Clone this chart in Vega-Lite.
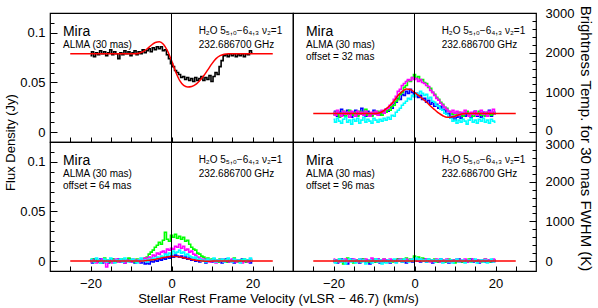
{
"$schema":"https://vega.github.io/schema/vega-lite/v6.json",
"padding":{"left":4,"top":4,"right":4,"bottom":0},
"config":{"font":"Liberation Sans","view":{"stroke":"#000000","strokeWidth":1.2},
"axis":{"domain":false,"grid":false,"labelOverlap":false,"labelBound":false,"labelFlush":false,"tickColor":"#000","tickWidth":1,"labelColor":"#000","labelFont":"Liberation Sans","labelFontSize":13,"titleFont":"Liberation Sans","titleFontSize":13,"titleFontWeight":"normal","titleColor":"#000"},
"text":{"font":"Liberation Sans","color":"#000"}},
"datasets":{
"obs0":[
{"v":-20,"f":0.077},{"v":-19.5,"f":0.081},{"v":-19,"f":0.076},{"v":-18.5,"f":0.080},{"v":-18,"f":0.078},{"v":-17.5,"f":0.082},{"v":-17,"f":0.079},{"v":-16.5,"f":0.081},{"v":-16,"f":0.077},{"v":-15.5,"f":0.080},{"v":-15,"f":0.083},{"v":-14.5,"f":0.078},{"v":-14,"f":0.081},{"v":-13.5,"f":0.079},{"v":-13,"f":0.074},{"v":-12.5,"f":0.080},{"v":-12,"f":0.078},{"v":-11.5,"f":0.082},{"v":-11,"f":0.079},{"v":-10.5,"f":0.081},{"v":-10,"f":0.077},{"v":-9.5,"f":0.080},{"v":-9,"f":0.082},{"v":-8.5,"f":0.078},{"v":-8,"f":0.081},{"v":-7.5,"f":0.079},{"v":-7,"f":0.083},{"v":-6.5,"f":0.080},{"v":-6,"f":0.082},{"v":-5.5,"f":0.084},{"v":-5,"f":0.081},{"v":-4.5,"f":0.085},{"v":-4,"f":0.083},{"v":-3.5,"f":0.086},{"v":-3,"f":0.084},{"v":-2.5,"f":0.086},{"v":-2,"f":0.082},{"v":-1.5,"f":0.083},{"v":-1,"f":0.078},{"v":-0.5,"f":0.074},{"v":0,"f":0.069},{"v":0.5,"f":0.066},{"v":1,"f":0.062},{"v":1.5,"f":0.060},{"v":2,"f":0.058},{"v":2.5,"f":0.055},{"v":3,"f":0.056},{"v":3.5,"f":0.053},{"v":4,"f":0.055},{"v":4.5,"f":0.052},{"v":5,"f":0.054},{"v":5.5,"f":0.051},{"v":6,"f":0.055},{"v":6.5,"f":0.052},{"v":7,"f":0.054},{"v":7.5,"f":0.056},{"v":8,"f":0.052},{"v":8.5,"f":0.055},{"v":9,"f":0.053},{"v":9.5,"f":0.057},{"v":10,"f":0.051},{"v":10.5,"f":0.056},{"v":11,"f":0.060},{"v":11.5,"f":0.058},{"v":12,"f":0.066},{"v":12.5,"f":0.072},{"v":13,"f":0.077},{"v":13.5,"f":0.078},{"v":14,"f":0.076},{"v":14.5,"f":0.079},{"v":15,"f":0.077},{"v":15.5,"f":0.079},{"v":16,"f":0.076},{"v":16.5,"f":0.078},{"v":17,"f":0.077},{"v":17.5,"f":0.079},{"v":18,"f":0.076},{"v":18.5,"f":0.079},{"v":19,"f":0.078},{"v":19.5,"f":0.082},{"v":20,"f":0.080}
],
"obs":[
{"p":"32","v":-20,"b":0.018,"c":0.013,"g":0.017,"m":0.020},
{"p":"32","v":-19.5,"b":0.021,"c":0.010,"g":0.020,"m":0.017},
{"p":"32","v":-19,"b":0.016,"c":0.014,"g":0.018,"m":0.022},
{"p":"32","v":-18.5,"b":0.020,"c":0.011,"g":0.015,"m":0.019},
{"p":"32","v":-18,"b":0.023,"c":0.009,"g":0.019,"m":0.016},
{"p":"32","v":-17.5,"b":0.017,"c":0.013,"g":0.021,"m":0.021},
{"p":"32","v":-17,"b":0.019,"c":0.015,"g":0.016,"m":0.018},
{"p":"32","v":-16.5,"b":0.022,"c":0.010,"g":0.018,"m":0.020},
{"p":"32","v":-16,"b":0.018,"c":0.012,"g":0.022,"m":0.015},
{"p":"32","v":-15.5,"b":0.015,"c":0.008,"g":0.019,"m":0.021},
{"p":"32","v":-15,"b":0.020,"c":0.013,"g":0.017,"m":0.019},
{"p":"32","v":-14.5,"b":0.022,"c":0.011,"g":0.020,"m":0.016},
{"p":"32","v":-14,"b":0.017,"c":0.014,"g":0.016,"m":0.021},
{"p":"32","v":-13.5,"b":0.019,"c":0.009,"g":0.021,"m":0.018},
{"p":"32","v":-13,"b":0.024,"c":0.012,"g":0.018,"m":0.020},
{"p":"32","v":-12.5,"b":0.018,"c":0.015,"g":0.020,"m":0.017},
{"p":"32","v":-12,"b":0.016,"c":0.010,"g":0.023,"m":0.021},
{"p":"32","v":-11.5,"b":0.021,"c":0.013,"g":0.017,"m":0.019},
{"p":"32","v":-11,"b":0.019,"c":0.011,"g":0.019,"m":0.016},
{"p":"32","v":-10.5,"b":0.017,"c":0.009,"g":0.016,"m":0.020},
{"p":"32","v":-10,"b":0.022,"c":0.014,"g":0.020,"m":0.018},
{"p":"32","v":-9.5,"b":0.018,"c":0.012,"g":0.018,"m":0.021},
{"p":"32","v":-9,"b":0.020,"c":0.010,"g":0.021,"m":0.017},
{"p":"32","v":-8.5,"b":0.017,"c":0.013,"g":0.019,"m":0.020},
{"p":"32","v":-8,"b":0.021,"c":0.011,"g":0.017,"m":0.022},
{"p":"32","v":-7.5,"b":0.019,"c":0.014,"g":0.021,"m":0.019},
{"p":"32","v":-7,"b":0.023,"c":0.012,"g":0.020,"m":0.023},
{"p":"32","v":-6.5,"b":0.021,"c":0.015,"g":0.023,"m":0.024},
{"p":"32","v":-6,"b":0.025,"c":0.013,"g":0.022,"m":0.027},
{"p":"32","v":-5.5,"b":0.024,"c":0.017,"g":0.026,"m":0.029},
{"p":"32","v":-5,"b":0.029,"c":0.016,"g":0.027,"m":0.033},
{"p":"32","v":-4.5,"b":0.030,"c":0.020,"g":0.031,"m":0.036},
{"p":"32","v":-4,"b":0.034,"c":0.022,"g":0.033,"m":0.041},
{"p":"32","v":-3.5,"b":0.033,"c":0.024,"g":0.038,"m":0.043},
{"p":"32","v":-3,"b":0.038,"c":0.027,"g":0.040,"m":0.047},
{"p":"32","v":-2.5,"b":0.037,"c":0.029,"g":0.045,"m":0.049},
{"p":"32","v":-2,"b":0.041,"c":0.031,"g":0.047,"m":0.051},
{"p":"32","v":-1.5,"b":0.039,"c":0.034,"g":0.052,"m":0.053},
{"p":"32","v":-1,"b":0.043,"c":0.033,"g":0.051,"m":0.052},
{"p":"32","v":-0.5,"b":0.040,"c":0.037,"g":0.055,"m":0.055},
{"p":"32","v":0,"b":0.036,"c":0.036,"g":0.058,"m":0.053},
{"p":"32","v":0.5,"b":0.039,"c":0.039,"g":0.054,"m":0.054},
{"p":"32","v":1,"b":0.035,"c":0.038,"g":0.056,"m":0.051},
{"p":"32","v":1.5,"b":0.037,"c":0.041,"g":0.052,"m":0.053},
{"p":"32","v":2,"b":0.033,"c":0.039,"g":0.053,"m":0.050},
{"p":"32","v":2.5,"b":0.034,"c":0.037,"g":0.050,"m":0.049},
{"p":"32","v":3,"b":0.030,"c":0.038,"g":0.049,"m":0.047},
{"p":"32","v":3.5,"b":0.032,"c":0.034,"g":0.045,"m":0.046},
{"p":"32","v":4,"b":0.028,"c":0.035,"g":0.044,"m":0.042},
{"p":"32","v":4.5,"b":0.030,"c":0.031,"g":0.040,"m":0.040},
{"p":"32","v":5,"b":0.026,"c":0.030,"g":0.038,"m":0.037},
{"p":"32","v":5.5,"b":0.028,"c":0.027,"g":0.035,"m":0.034},
{"p":"32","v":6,"b":0.024,"c":0.026,"g":0.033,"m":0.032},
{"p":"32","v":6.5,"b":0.026,"c":0.023,"g":0.030,"m":0.029},
{"p":"32","v":7,"b":0.022,"c":0.022,"g":0.028,"m":0.027},
{"p":"32","v":7.5,"b":0.023,"c":0.019,"g":0.025,"m":0.025},
{"p":"32","v":8,"b":0.018,"c":0.018,"g":0.024,"m":0.023},
{"p":"32","v":8.5,"b":0.019,"c":0.015,"g":0.021,"m":0.021},
{"p":"32","v":9,"b":0.014,"c":0.014,"g":0.020,"m":0.020},
{"p":"32","v":9.5,"b":0.016,"c":0.011,"g":0.018,"m":0.022},
{"p":"32","v":10,"b":0.012,"c":0.012,"g":0.019,"m":0.019},
{"p":"32","v":10.5,"b":0.015,"c":0.009,"g":0.017,"m":0.021},
{"p":"32","v":11,"b":0.017,"c":0.012,"g":0.020,"m":0.017},
{"p":"32","v":11.5,"b":0.014,"c":0.010,"g":0.018,"m":0.020},
{"p":"32","v":12,"b":0.019,"c":0.013,"g":0.016,"m":0.018},
{"p":"32","v":12.5,"b":0.016,"c":0.011,"g":0.019,"m":0.022},
{"p":"32","v":13,"b":0.020,"c":0.008,"g":0.021,"m":0.019},
{"p":"32","v":13.5,"b":0.017,"c":0.012,"g":0.017,"m":0.016},
{"p":"32","v":14,"b":0.015,"c":0.014,"g":0.019,"m":0.020},
{"p":"32","v":14.5,"b":0.019,"c":0.010,"g":0.016,"m":0.018},
{"p":"32","v":15,"b":0.021,"c":0.012,"g":0.020,"m":0.021},
{"p":"32","v":15.5,"b":0.016,"c":0.009,"g":0.018,"m":0.017},
{"p":"32","v":16,"b":0.018,"c":0.013,"g":0.021,"m":0.019},
{"p":"32","v":16.5,"b":0.015,"c":0.011,"g":0.017,"m":0.022},
{"p":"32","v":17,"b":0.020,"c":0.014,"g":0.019,"m":0.018},
{"p":"32","v":17.5,"b":0.017,"c":0.010,"g":0.016,"m":0.020},
{"p":"32","v":18,"b":0.019,"c":0.012,"g":0.020,"m":0.016},
{"p":"32","v":18.5,"b":0.022,"c":0.009,"g":0.018,"m":0.021},
{"p":"32","v":19,"b":0.016,"c":0.013,"g":0.017,"m":0.019},
{"p":"32","v":19.5,"b":0.018,"c":0.011,"g":0.020,"m":0.023},
{"p":"32","v":20,"b":0.020,"c":0.010,"g":0.018,"m":0.018},
{"p":"64","v":-20,"b":0.001,"c":0.002,"g":0.000,"m":-0.001},
{"p":"64","v":-19.5,"b":-0.002,"c":0.000,"g":0.002,"m":0.001},
{"p":"64","v":-19,"b":0.002,"c":-0.001,"g":-0.001,"m":0.000},
{"p":"64","v":-18.5,"b":0.000,"c":0.003,"g":0.001,"m":-0.002},
{"p":"64","v":-18,"b":-0.001,"c":0.001,"g":0.000,"m":0.001},
{"p":"64","v":-17.5,"b":0.002,"c":-0.002,"g":-0.002,"m":0.000},
{"p":"64","v":-17,"b":-0.002,"c":0.000,"g":0.001,"m":0.002},
{"p":"64","v":-16.5,"b":0.001,"c":0.002,"g":0.003,"m":-0.001},
{"p":"64","v":-16,"b":0.000,"c":-0.001,"g":0.000,"m":-0.006},
{"p":"64","v":-15.5,"b":-0.002,"c":0.001,"g":0.001,"m":0.001},
{"p":"64","v":-15,"b":0.001,"c":0.003,"g":-0.001,"m":0.000},
{"p":"64","v":-14.5,"b":0.002,"c":0.000,"g":0.002,"m":-0.002},
{"p":"64","v":-14,"b":-0.001,"c":-0.002,"g":0.000,"m":0.001},
{"p":"64","v":-13.5,"b":0.000,"c":0.001,"g":-0.001,"m":0.002},
{"p":"64","v":-13,"b":0.002,"c":0.000,"g":0.001,"m":-0.001},
{"p":"64","v":-12.5,"b":-0.001,"c":0.002,"g":0.000,"m":0.000},
{"p":"64","v":-12,"b":0.001,"c":-0.001,"g":0.002,"m":0.001},
{"p":"64","v":-11.5,"b":-0.002,"c":0.003,"g":-0.001,"m":-0.002},
{"p":"64","v":-11,"b":0.000,"c":0.000,"g":0.001,"m":0.001},
{"p":"64","v":-10.5,"b":0.002,"c":-0.001,"g":0.003,"m":0.000},
{"p":"64","v":-10,"b":-0.001,"c":0.001,"g":0.000,"m":-0.001},
{"p":"64","v":-9.5,"b":0.001,"c":0.002,"g":0.001,"m":0.002},
{"p":"64","v":-9,"b":-0.002,"c":0.000,"g":-0.001,"m":0.000},
{"p":"64","v":-8.5,"b":0.000,"c":-0.002,"g":0.002,"m":0.001},
{"p":"64","v":-8,"b":0.001,"c":0.001,"g":0.001,"m":-0.001},
{"p":"64","v":-7.5,"b":-0.002,"c":0.003,"g":0.000,"m":0.002},
{"p":"64","v":-7,"b":0.000,"c":0.000,"g":0.002,"m":0.001},
{"p":"64","v":-6.5,"b":-0.003,"c":0.001,"g":0.003,"m":0.003},
{"p":"64","v":-6,"b":-0.002,"c":-0.001,"g":0.004,"m":0.002},
{"p":"64","v":-5.5,"b":-0.003,"c":0.002,"g":0.007,"m":0.004},
{"p":"64","v":-5,"b":0.000,"c":0.001,"g":0.009,"m":0.003},
{"p":"64","v":-4.5,"b":-0.001,"c":0.003,"g":0.011,"m":0.006},
{"p":"64","v":-4,"b":0.001,"c":0.002,"g":0.014,"m":0.005},
{"p":"64","v":-3.5,"b":0.000,"c":0.004,"g":0.016,"m":0.008},
{"p":"64","v":-3,"b":0.002,"c":0.003,"g":0.019,"m":0.007},
{"p":"64","v":-2.5,"b":0.001,"c":0.005,"g":0.017,"m":0.009},
{"p":"64","v":-2,"b":0.003,"c":0.004,"g":0.021,"m":0.010},
{"p":"64","v":-1.5,"b":0.002,"c":0.007,"g":0.029,"m":0.008},
{"p":"64","v":-1,"b":0.004,"c":0.006,"g":0.022,"m":0.012},
{"p":"64","v":-0.5,"b":0.003,"c":0.008,"g":0.020,"m":0.011},
{"p":"64","v":0,"b":0.005,"c":0.007,"g":0.026,"m":0.013},
{"p":"64","v":0.5,"b":0.004,"c":0.010,"g":0.024,"m":0.012},
{"p":"64","v":1,"b":0.006,"c":0.008,"g":0.027,"m":0.015},
{"p":"64","v":1.5,"b":0.005,"c":0.009,"g":0.023,"m":0.014},
{"p":"64","v":2,"b":0.004,"c":0.011,"g":0.025,"m":0.017},
{"p":"64","v":2.5,"b":0.005,"c":0.008,"g":0.022,"m":0.013},
{"p":"64","v":3,"b":0.003,"c":0.009,"g":0.024,"m":0.015},
{"p":"64","v":3.5,"b":0.004,"c":0.006,"g":0.020,"m":0.011},
{"p":"64","v":4,"b":0.002,"c":0.007,"g":0.021,"m":0.012},
{"p":"64","v":4.5,"b":0.003,"c":0.005,"g":0.017,"m":0.009},
{"p":"64","v":5,"b":0.001,"c":0.004,"g":0.014,"m":0.010},
{"p":"64","v":5.5,"b":0.002,"c":0.003,"g":0.012,"m":0.007},
{"p":"64","v":6,"b":0.000,"c":0.004,"g":0.011,"m":0.006},
{"p":"64","v":6.5,"b":0.001,"c":0.001,"g":0.008,"m":0.004},
{"p":"64","v":7,"b":-0.001,"c":0.002,"g":0.007,"m":0.003},
{"p":"64","v":7.5,"b":0.001,"c":0.000,"g":0.005,"m":0.001},
{"p":"64","v":8,"b":0.000,"c":0.001,"g":0.004,"m":0.002},
{"p":"64","v":8.5,"b":-0.002,"c":-0.001,"g":0.002,"m":0.000},
{"p":"64","v":9,"b":0.001,"c":0.002,"g":0.003,"m":0.001},
{"p":"64","v":9.5,"b":0.000,"c":0.000,"g":0.001,"m":-0.001},
{"p":"64","v":10,"b":-0.001,"c":0.001,"g":0.002,"m":0.001},
{"p":"64","v":10.5,"b":0.002,"c":0.003,"g":0.000,"m":0.000},
{"p":"64","v":11,"b":0.000,"c":-0.001,"g":0.001,"m":-0.002},
{"p":"64","v":11.5,"b":-0.001,"c":0.001,"g":-0.001,"m":0.001},
{"p":"64","v":12,"b":0.001,"c":0.000,"g":0.002,"m":0.000},
{"p":"64","v":12.5,"b":-0.002,"c":0.002,"g":0.000,"m":0.002},
{"p":"64","v":13,"b":0.000,"c":-0.001,"g":0.001,"m":-0.001},
{"p":"64","v":13.5,"b":0.002,"c":0.001,"g":-0.001,"m":0.000},
{"p":"64","v":14,"b":-0.001,"c":0.003,"g":0.002,"m":0.001},
{"p":"64","v":14.5,"b":0.000,"c":0.000,"g":0.000,"m":-0.001},
{"p":"64","v":15,"b":0.001,"c":-0.001,"g":0.001,"m":0.002},
{"p":"64","v":15.5,"b":-0.002,"c":0.002,"g":0.003,"m":0.000},
{"p":"64","v":16,"b":0.000,"c":0.000,"g":0.000,"m":-0.001},
{"p":"64","v":16.5,"b":0.001,"c":0.001,"g":-0.001,"m":0.001},
{"p":"64","v":17,"b":-0.001,"c":-0.002,"g":0.001,"m":0.000},
{"p":"64","v":17.5,"b":0.002,"c":0.001,"g":0.000,"m":-0.002},
{"p":"64","v":18,"b":0.000,"c":0.002,"g":0.002,"m":0.001},
{"p":"64","v":18.5,"b":-0.001,"c":0.000,"g":-0.001,"m":0.000},
{"p":"64","v":19,"b":0.001,"c":0.001,"g":0.001,"m":-0.001},
{"p":"64","v":19.5,"b":-0.002,"c":0.003,"g":0.000,"m":0.002},
{"p":"64","v":20,"b":0.000,"c":0.000,"g":0.001,"m":0.000},
{"p":"96","v":-20,"b":-0.001,"c":0.001,"g":0.000,"m":0.002},
{"p":"96","v":-19.5,"b":0.001,"c":-0.002,"g":0.001,"m":0.000},
{"p":"96","v":-19,"b":-0.002,"c":0.000,"g":-0.001,"m":0.001},
{"p":"96","v":-18.5,"b":0.000,"c":0.002,"g":0.002,"m":-0.001},
{"p":"96","v":-18,"b":0.002,"c":-0.001,"g":0.000,"m":0.001},
{"p":"96","v":-17.5,"b":-0.001,"c":0.001,"g":-0.003,"m":0.000},
{"p":"96","v":-17,"b":0.001,"c":-0.003,"g":0.001,"m":0.002},
{"p":"96","v":-16.5,"b":-0.003,"c":0.000,"g":0.003,"m":-0.001},
{"p":"96","v":-16,"b":0.000,"c":0.002,"g":0.000,"m":0.001},
{"p":"96","v":-15.5,"b":0.002,"c":-0.001,"g":0.001,"m":0.000},
{"p":"96","v":-15,"b":-0.001,"c":0.001,"g":-0.002,"m":0.002},
{"p":"96","v":-14.5,"b":0.001,"c":-0.002,"g":0.000,"m":0.001},
{"p":"96","v":-14,"b":0.000,"c":0.000,"g":0.001,"m":-0.001},
{"p":"96","v":-13.5,"b":-0.002,"c":0.002,"g":-0.001,"m":0.002},
{"p":"96","v":-13,"b":0.002,"c":-0.001,"g":0.000,"m":0.000},
{"p":"96","v":-12.5,"b":0.000,"c":0.001,"g":0.002,"m":0.001},
{"p":"96","v":-12,"b":-0.001,"c":-0.003,"g":0.000,"m":0.002},
{"p":"96","v":-11.5,"b":0.001,"c":0.000,"g":-0.001,"m":0.000},
{"p":"96","v":-11,"b":-0.003,"c":0.001,"g":0.001,"m":0.001},
{"p":"96","v":-10.5,"b":0.000,"c":-0.002,"g":0.000,"m":0.003},
{"p":"96","v":-10,"b":0.001,"c":0.000,"g":0.002,"m":0.000},
{"p":"96","v":-9.5,"b":-0.001,"c":0.002,"g":-0.001,"m":0.001},
{"p":"96","v":-9,"b":0.002,"c":-0.001,"g":0.000,"m":0.002},
{"p":"96","v":-8.5,"b":-0.002,"c":0.001,"g":0.001,"m":-0.001},
{"p":"96","v":-8,"b":0.000,"c":-0.003,"g":0.000,"m":0.001},
{"p":"96","v":-7.5,"b":-0.001,"c":0.000,"g":0.002,"m":0.002},
{"p":"96","v":-7,"b":0.001,"c":-0.002,"g":-0.001,"m":0.000},
{"p":"96","v":-6.5,"b":0.000,"c":0.001,"g":0.000,"m":0.001},
{"p":"96","v":-6,"b":-0.002,"c":-0.001,"g":0.001,"m":0.002},
{"p":"96","v":-5.5,"b":0.001,"c":0.000,"g":-0.001,"m":0.000},
{"p":"96","v":-5,"b":0.000,"c":0.002,"g":0.000,"m":0.001},
{"p":"96","v":-4.5,"b":-0.001,"c":-0.002,"g":0.001,"m":-0.001},
{"p":"96","v":-4,"b":0.002,"c":0.000,"g":0.002,"m":0.001},
{"p":"96","v":-3.5,"b":0.000,"c":0.001,"g":0.000,"m":0.002},
{"p":"96","v":-3,"b":-0.001,"c":-0.001,"g":0.002,"m":0.000},
{"p":"96","v":-2.5,"b":0.001,"c":0.002,"g":0.000,"m":0.001},
{"p":"96","v":-2,"b":-0.002,"c":0.000,"g":0.003,"m":0.002},
{"p":"96","v":-1.5,"b":0.000,"c":-0.001,"g":0.001,"m":0.000},
{"p":"96","v":-1,"b":0.001,"c":0.001,"g":0.002,"m":0.001},
{"p":"96","v":-0.5,"b":-0.001,"c":0.002,"g":0.000,"m":0.002},
{"p":"96","v":0,"b":0.002,"c":0.000,"g":0.005,"m":0.001},
{"p":"96","v":0.5,"b":0.000,"c":0.003,"g":0.002,"m":0.002},
{"p":"96","v":1,"b":0.001,"c":0.001,"g":0.004,"m":0.000},
{"p":"96","v":1.5,"b":-0.001,"c":0.002,"g":0.001,"m":0.002},
{"p":"96","v":2,"b":0.000,"c":0.000,"g":0.003,"m":0.001},
{"p":"96","v":2.5,"b":0.002,"c":0.001,"g":0.001,"m":0.000},
{"p":"96","v":3,"b":-0.001,"c":-0.001,"g":0.000,"m":0.002},
{"p":"96","v":3.5,"b":0.000,"c":0.002,"g":0.002,"m":0.001},
{"p":"96","v":4,"b":0.001,"c":0.000,"g":0.001,"m":-0.001},
{"p":"96","v":4.5,"b":-0.002,"c":0.001,"g":0.000,"m":0.001},
{"p":"96","v":5,"b":0.000,"c":-0.001,"g":0.002,"m":0.000},
{"p":"96","v":5.5,"b":0.001,"c":0.001,"g":-0.001,"m":0.002},
{"p":"96","v":6,"b":-0.001,"c":0.000,"g":0.001,"m":0.000},
{"p":"96","v":6.5,"b":0.002,"c":0.002,"g":0.000,"m":-0.001},
{"p":"96","v":7,"b":0.000,"c":-0.002,"g":0.001,"m":0.001},
{"p":"96","v":7.5,"b":-0.001,"c":0.000,"g":-0.001,"m":0.000},
{"p":"96","v":8,"b":0.001,"c":0.001,"g":0.000,"m":0.002},
{"p":"96","v":8.5,"b":-0.002,"c":-0.001,"g":0.002,"m":0.000},
{"p":"96","v":9,"b":0.000,"c":0.001,"g":0.000,"m":-0.001},
{"p":"96","v":9.5,"b":0.001,"c":-0.002,"g":0.001,"m":0.001},
{"p":"96","v":10,"b":-0.001,"c":0.000,"g":-0.002,"m":0.000},
{"p":"96","v":10.5,"b":0.000,"c":0.002,"g":0.000,"m":0.002},
{"p":"96","v":11,"b":0.002,"c":-0.001,"g":0.001,"m":-0.001},
{"p":"96","v":11.5,"b":-0.001,"c":0.000,"g":0.000,"m":0.001},
{"p":"96","v":12,"b":0.000,"c":0.001,"g":-0.001,"m":0.000},
{"p":"96","v":12.5,"b":0.001,"c":-0.002,"g":0.001,"m":0.002},
{"p":"96","v":13,"b":-0.001,"c":0.000,"g":0.000,"m":-0.001},
{"p":"96","v":13.5,"b":0.000,"c":0.001,"g":0.002,"m":0.001},
{"p":"96","v":14,"b":0.002,"c":-0.001,"g":-0.001,"m":0.000},
{"p":"96","v":14.5,"b":-0.001,"c":0.000,"g":0.000,"m":0.002},
{"p":"96","v":15,"b":0.000,"c":0.002,"g":0.001,"m":0.000},
{"p":"96","v":15.5,"b":0.001,"c":-0.002,"g":0.000,"m":0.001},
{"p":"96","v":16,"b":-0.002,"c":0.000,"g":0.001,"m":-0.001},
{"p":"96","v":16.5,"b":0.000,"c":0.001,"g":-0.001,"m":0.001},
{"p":"96","v":17,"b":0.001,"c":-0.001,"g":0.000,"m":0.000},
{"p":"96","v":17.5,"b":-0.001,"c":0.001,"g":0.002,"m":0.002},
{"p":"96","v":18,"b":0.000,"c":-0.002,"g":0.000,"m":0.000},
{"p":"96","v":18.5,"b":0.001,"c":0.000,"g":-0.001,"m":0.001},
{"p":"96","v":19,"b":-0.001,"c":0.002,"g":0.001,"m":0.000},
{"p":"96","v":19.5,"b":0.000,"c":-0.001,"g":0.000,"m":0.002},
{"p":"96","v":20,"b":0.001,"c":0.000,"g":0.001,"m":-0.001}
],
"model":[
{"p":"00","v":-25,"r":0.079},{"p":"00","v":-20,"r":0.079},{"p":"00","v":-15,"r":0.079},{"p":"00","v":-10,"r":0.079},{"p":"00","v":-9,"r":0.079},{"p":"00","v":-8,"r":0.0795},{"p":"00","v":-7,"r":0.081},{"p":"00","v":-6,"r":0.084},{"p":"00","v":-5,"r":0.0875},{"p":"00","v":-4,"r":0.0903},{"p":"00","v":-3,"r":0.091},{"p":"00","v":-2,"r":0.0885},{"p":"00","v":-1,"r":0.082},{"p":"00","v":0,"r":0.072},{"p":"00","v":1,"r":0.061},{"p":"00","v":2,"r":0.052},{"p":"00","v":3,"r":0.047},{"p":"00","v":4,"r":0.0455},{"p":"00","v":5,"r":0.046},{"p":"00","v":6,"r":0.048},{"p":"00","v":7,"r":0.052},{"p":"00","v":8,"r":0.057},{"p":"00","v":9,"r":0.063},{"p":"00","v":10,"r":0.069},{"p":"00","v":11,"r":0.074},{"p":"00","v":12,"r":0.077},{"p":"00","v":13,"r":0.0785},{"p":"00","v":14,"r":0.079},{"p":"00","v":15,"r":0.079},{"p":"00","v":20,"r":0.079},{"p":"00","v":25,"r":0.079},
{"p":"32","v":-25,"r":0.0187},{"p":"32","v":-20,"r":0.0187},{"p":"32","v":-15,"r":0.0187},{"p":"32","v":-10,"r":0.0187},{"p":"32","v":-9,"r":0.019},{"p":"32","v":-8,"r":0.0205},{"p":"32","v":-7,"r":0.0235},{"p":"32","v":-6,"r":0.027},{"p":"32","v":-5,"r":0.0315},{"p":"32","v":-4,"r":0.037},{"p":"32","v":-3,"r":0.041},{"p":"32","v":-2,"r":0.0435},{"p":"32","v":-1,"r":0.043},{"p":"32","v":0,"r":0.040},{"p":"32","v":1,"r":0.037},{"p":"32","v":2,"r":0.0335},{"p":"32","v":3,"r":0.030},{"p":"32","v":4,"r":0.026},{"p":"32","v":5,"r":0.0225},{"p":"32","v":6,"r":0.019},{"p":"32","v":7,"r":0.0165},{"p":"32","v":8,"r":0.015},{"p":"32","v":9,"r":0.015},{"p":"32","v":10,"r":0.016},{"p":"32","v":11,"r":0.0175},{"p":"32","v":12,"r":0.0185},{"p":"32","v":13,"r":0.0187},{"p":"32","v":15,"r":0.0187},{"p":"32","v":20,"r":0.0187},{"p":"32","v":25,"r":0.0187},
{"p":"64","v":-25,"r":0},{"p":"64","v":-10,"r":0},{"p":"64","v":-7,"r":0.0002},{"p":"64","v":-6,"r":0.0005},{"p":"64","v":-5,"r":0.001},{"p":"64","v":-4,"r":0.0017},{"p":"64","v":-3,"r":0.0026},{"p":"64","v":-2,"r":0.0035},{"p":"64","v":-1,"r":0.0042},{"p":"64","v":0,"r":0.0046},{"p":"64","v":1,"r":0.0046},{"p":"64","v":2,"r":0.0041},{"p":"64","v":3,"r":0.0033},{"p":"64","v":4,"r":0.0024},{"p":"64","v":5,"r":0.0015},{"p":"64","v":6,"r":0.0008},{"p":"64","v":7,"r":0.0003},{"p":"64","v":8,"r":0},{"p":"64","v":9,"r":-0.0002},{"p":"64","v":10,"r":0},{"p":"64","v":25,"r":0},
{"p":"96","v":-25,"r":0},{"p":"96","v":25,"r":0}
]
},
"bounds":"flush",
"spacing":0,
"columns":2,
"concat":[
{"width":243,"height":129,"layer":[
{"layer":[
{"data":{"name":"obs0"},"mark":{"type":"line","interpolate":"step","strokeWidth":1.6,"color":"#000000"},
"encoding":{"x":{"field":"v","type":"quantitative","scale":{"domain":[-30,30],"nice":false},"axis":null},
"y":{"field":"f","type":"quantitative","scale":{"domain":[-0.01,0.12],"nice":false},"axis":null}}},
{"data":{"name":"model"},"transform":[{"filter":"datum.p == '00'"}],"mark":{"type":"line","interpolate":"monotone","strokeWidth":1.5,"color":"#ff0000"},"encoding":{"x":{"field":"v","type":"quantitative","axis":null},"y":{"field":"r","type":"quantitative","axis":null}}},
{"data":{"values":[{}]},"mark":{"type":"rule","color":"#000000","strokeWidth":1},"encoding":{"x":{"datum":0,"axis":null}}},
{"data":{"values":[{}]},"mark":{"type":"text","text":"Mira","align":"left","fontSize":14},"encoding":{"x":{"datum":-26.8,"axis":null},"y":{"datum":0.101,"axis":null}}},
{"data":{"values":[{}]},"mark":{"type":"text","text":"ALMA (30 mas)","align":"left","fontSize":10},"encoding":{"x":{"datum":-26.8,"axis":null},"y":{"datum":0.088,"axis":null}}},
{"data":{"values":[{}]},"mark":{"type":"text","text":"H₂O 5₅,₀−6₄,₃ ν₂=1","align":"left","fontSize":10},"encoding":{"x":{"datum":6.7,"axis":null},"y":{"datum":0.102,"axis":null}}},
{"data":{"values":[{}]},"mark":{"type":"text","text":"232.686700 GHz","align":"left","fontSize":10},"encoding":{"x":{"datum":6.7,"axis":null},"y":{"datum":0.088,"axis":null}}}
]},
{"data":{"values":[{}]},"mark":{"type":"point","opacity":0},"encoding":{
"x":{"datum":0,"type":"quantitative","scale":{"domain":[-30,30],"nice":false},"axis":{"orient":"bottom","values":[-25,-20,-15,-10,-5,0,5,10,15,20,25],"labels":false,"tickSize":-5,"title":null}},
"y":{"datum":0,"type":"quantitative","scale":{"domain":[-0.01,0.12],"nice":false},"axis":{"orient":"left","values":[-0.01,0,0.01,0.02,0.03,0.04,0.05,0.06,0.07,0.08,0.09,0.1,0.11,0.12],"labelExpr":"datum.value == 0 ? '0' : datum.value == 0.05 ? '0.05' : datum.value == 0.1 ? '0.1' : ''","tickSize":{"condition":{"test":"datum.value == 0 || datum.value == 0.05 || datum.value == 0.1","value":-7},"value":-4},"labelPadding":12,"title":"Flux Density (Jy)","titleY":129,"titlePadding":2}}}}
],"resolve":{"scale":{"x":"independent","y":"independent"}}},
{"width":243,"height":129,"layer":[
{"layer":[
{"data":{"name":"obs"},"transform":[{"filter":"datum.p == '32'"},{"fold":["b","g","m","c"],"as":["s","f"]}],"mark":{"type":"line","interpolate":"step","strokeWidth":1.6},
"encoding":{"x":{"field":"v","type":"quantitative","scale":{"domain":[-30,30],"nice":false},"axis":null},
"y":{"field":"f","type":"quantitative","scale":{"domain":[-0.01,0.12],"nice":false},"axis":null},
"color":{"field":"s","type":"nominal","scale":{"domain":["b","g","m","c"],"range":["#0000ff","#00ff00","#ff00ff","#00ffff"]},"legend":null}}},
{"data":{"name":"model"},"transform":[{"filter":"datum.p == '32'"}],"mark":{"type":"line","interpolate":"monotone","strokeWidth":1.5,"color":"#ff0000"},"encoding":{"x":{"field":"v","type":"quantitative","axis":null},"y":{"field":"r","type":"quantitative","axis":null}}},
{"data":{"values":[{}]},"mark":{"type":"rule","color":"#000000","strokeWidth":1},"encoding":{"x":{"datum":0,"axis":null}}},
{"data":{"values":[{}]},"mark":{"type":"text","text":"Mira","align":"left","fontSize":14},"encoding":{"x":{"datum":-26.8,"axis":null},"y":{"datum":0.101,"axis":null}}},
{"data":{"values":[{}]},"mark":{"type":"text","text":"ALMA (30 mas)","align":"left","fontSize":10},"encoding":{"x":{"datum":-26.8,"axis":null},"y":{"datum":0.088,"axis":null}}},
{"data":{"values":[{}]},"mark":{"type":"text","text":"offset = 32 mas","align":"left","fontSize":10},"encoding":{"x":{"datum":-26.8,"axis":null},"y":{"datum":0.076,"axis":null}}},
{"data":{"values":[{}]},"mark":{"type":"text","text":"H₂O 5₅,₀−6₄,₃ ν₂=1","align":"left","fontSize":10},"encoding":{"x":{"datum":6.7,"axis":null},"y":{"datum":0.102,"axis":null}}},
{"data":{"values":[{}]},"mark":{"type":"text","text":"232.686700 GHz","align":"left","fontSize":10},"encoding":{"x":{"datum":6.7,"axis":null},"y":{"datum":0.088,"axis":null}}}
]},
{"data":{"values":[{}]},"mark":{"type":"point","opacity":0},"encoding":{
"x":{"datum":0,"type":"quantitative","scale":{"domain":[-30,30],"nice":false},"axis":{"orient":"bottom","values":[-25,-20,-15,-10,-5,0,5,10,15,20,25],"labels":false,"tickSize":-5,"title":null}},
"y":{"datum":0,"type":"quantitative","scale":{"domain":[-250,3000],"nice":false},"axis":{"orient":"right","values":[0,200,400,600,800,1000,1200,1400,1600,1800,2000,2200,2400,2600,2800,3000],"labelExpr":"datum.value % 1000 == 0 ? format(datum.value, 'd') : ''","labelOffset":{"condition":{"test":"datum.value == 0","value":-2},"value":0},"tickSize":{"condition":{"test":"datum.value % 1000 == 0","value":-7},"value":-4},"labelPadding":16,"title":"Brightness Temp. for 30 mas FWHM (K)","titleFontSize":15,"titleY":125,"titlePadding":4}}}}
],"resolve":{"scale":{"x":"independent","y":"independent"}}},
{"width":243,"height":129,"layer":[
{"layer":[
{"data":{"name":"obs"},"transform":[{"filter":"datum.p == '64'"},{"fold":["b","g","m","c"],"as":["s","f"]}],"mark":{"type":"line","interpolate":"step","strokeWidth":1.6},
"encoding":{"x":{"field":"v","type":"quantitative","scale":{"domain":[-30,30],"nice":false},"axis":null},
"y":{"field":"f","type":"quantitative","scale":{"domain":[-0.01,0.12],"nice":false},"axis":null},
"color":{"field":"s","type":"nominal","scale":{"domain":["b","g","m","c"],"range":["#0000ff","#00ff00","#ff00ff","#00ffff"]},"legend":null}}},
{"data":{"name":"model"},"transform":[{"filter":"datum.p == '64'"}],"mark":{"type":"line","interpolate":"monotone","strokeWidth":1.5,"color":"#ff0000"},"encoding":{"x":{"field":"v","type":"quantitative","axis":null},"y":{"field":"r","type":"quantitative","axis":null}}},
{"data":{"values":[{}]},"mark":{"type":"rule","color":"#000000","strokeWidth":1},"encoding":{"x":{"datum":0,"axis":null}}},
{"data":{"values":[{}]},"mark":{"type":"text","text":"Mira","align":"left","fontSize":14},"encoding":{"x":{"datum":-26.8,"axis":null},"y":{"datum":0.101,"axis":null}}},
{"data":{"values":[{}]},"mark":{"type":"text","text":"ALMA (30 mas)","align":"left","fontSize":10},"encoding":{"x":{"datum":-26.8,"axis":null},"y":{"datum":0.088,"axis":null}}},
{"data":{"values":[{}]},"mark":{"type":"text","text":"offset = 64 mas","align":"left","fontSize":10},"encoding":{"x":{"datum":-26.8,"axis":null},"y":{"datum":0.076,"axis":null}}},
{"data":{"values":[{}]},"mark":{"type":"text","text":"H₂O 5₅,₀−6₄,₃ ν₂=1","align":"left","fontSize":10},"encoding":{"x":{"datum":6.7,"axis":null},"y":{"datum":0.102,"axis":null}}},
{"data":{"values":[{}]},"mark":{"type":"text","text":"232.686700 GHz","align":"left","fontSize":10},"encoding":{"x":{"datum":6.7,"axis":null},"y":{"datum":0.088,"axis":null}}}
]},
{"data":{"values":[{}]},"mark":{"type":"point","opacity":0},"encoding":{
"x":{"datum":0,"type":"quantitative","scale":{"domain":[-30,30],"nice":false},"axis":{"orient":"bottom","values":[-25,-20,-15,-10,-5,0,5,10,15,20,25],"labelExpr":"datum.value % 20 == 0 ? format(datum.value, 'd') : ''","tickSize":-5,"labelPadding":11,"title":"Stellar Rest Frame Velocity (vLSR − 46.7) (km/s)","titleX":228,"titlePadding":2}},
"y":{"datum":0,"type":"quantitative","scale":{"domain":[-0.01,0.12],"nice":false},"axis":{"orient":"left","values":[-0.01,0,0.01,0.02,0.03,0.04,0.05,0.06,0.07,0.08,0.09,0.1,0.11,0.12],"labelExpr":"datum.value == 0 ? '0' : datum.value == 0.05 ? '0.05' : datum.value == 0.1 ? '0.1' : ''","tickSize":{"condition":{"test":"datum.value == 0 || datum.value == 0.05 || datum.value == 0.1","value":-7},"value":-4},"labelPadding":12,"title":null}}}}
],"resolve":{"scale":{"x":"independent","y":"independent"}}},
{"width":243,"height":129,"layer":[
{"layer":[
{"data":{"name":"obs"},"transform":[{"filter":"datum.p == '96'"},{"fold":["b","g","m","c"],"as":["s","f"]}],"mark":{"type":"line","interpolate":"step","strokeWidth":1.6},
"encoding":{"x":{"field":"v","type":"quantitative","scale":{"domain":[-30,30],"nice":false},"axis":null},
"y":{"field":"f","type":"quantitative","scale":{"domain":[-0.01,0.12],"nice":false},"axis":null},
"color":{"field":"s","type":"nominal","scale":{"domain":["b","g","m","c"],"range":["#0000ff","#00ff00","#ff00ff","#00ffff"]},"legend":null}}},
{"data":{"name":"model"},"transform":[{"filter":"datum.p == '96'"}],"mark":{"type":"line","interpolate":"monotone","strokeWidth":1.5,"color":"#ff0000"},"encoding":{"x":{"field":"v","type":"quantitative","axis":null},"y":{"field":"r","type":"quantitative","axis":null}}},
{"data":{"values":[{}]},"mark":{"type":"rule","color":"#000000","strokeWidth":1},"encoding":{"x":{"datum":0,"axis":null}}},
{"data":{"values":[{}]},"mark":{"type":"text","text":"Mira","align":"left","fontSize":14},"encoding":{"x":{"datum":-26.8,"axis":null},"y":{"datum":0.101,"axis":null}}},
{"data":{"values":[{}]},"mark":{"type":"text","text":"ALMA (30 mas)","align":"left","fontSize":10},"encoding":{"x":{"datum":-26.8,"axis":null},"y":{"datum":0.088,"axis":null}}},
{"data":{"values":[{}]},"mark":{"type":"text","text":"offset = 96 mas","align":"left","fontSize":10},"encoding":{"x":{"datum":-26.8,"axis":null},"y":{"datum":0.076,"axis":null}}},
{"data":{"values":[{}]},"mark":{"type":"text","text":"H₂O 5₅,₀−6₄,₃ ν₂=1","align":"left","fontSize":10},"encoding":{"x":{"datum":6.7,"axis":null},"y":{"datum":0.102,"axis":null}}},
{"data":{"values":[{}]},"mark":{"type":"text","text":"232.686700 GHz","align":"left","fontSize":10},"encoding":{"x":{"datum":6.7,"axis":null},"y":{"datum":0.088,"axis":null}}}
]},
{"data":{"values":[{}]},"mark":{"type":"point","opacity":0},"encoding":{
"x":{"datum":0,"type":"quantitative","scale":{"domain":[-30,30],"nice":false},"axis":{"orient":"bottom","values":[-25,-20,-15,-10,-5,0,5,10,15,20,25],"labelExpr":"datum.value % 20 == 0 ? format(datum.value, 'd') : ''","tickSize":-5,"labelPadding":11,"title":null}},
"y":{"datum":0,"type":"quantitative","scale":{"domain":[-250,3000],"nice":false},"axis":{"orient":"right","values":[0,200,400,600,800,1000,1200,1400,1600,1800,2000,2200,2400,2600,2800,3000],"labelExpr":"datum.value % 1000 == 0 ? format(datum.value, 'd') : ''","labelOffset":{"condition":{"test":"datum.value == 3000","value":2},"value":0},"tickSize":{"condition":{"test":"datum.value % 1000 == 0","value":-7},"value":-4},"labelPadding":16,"title":null}}}}
],"resolve":{"scale":{"x":"independent","y":"independent"}}}
]
}
